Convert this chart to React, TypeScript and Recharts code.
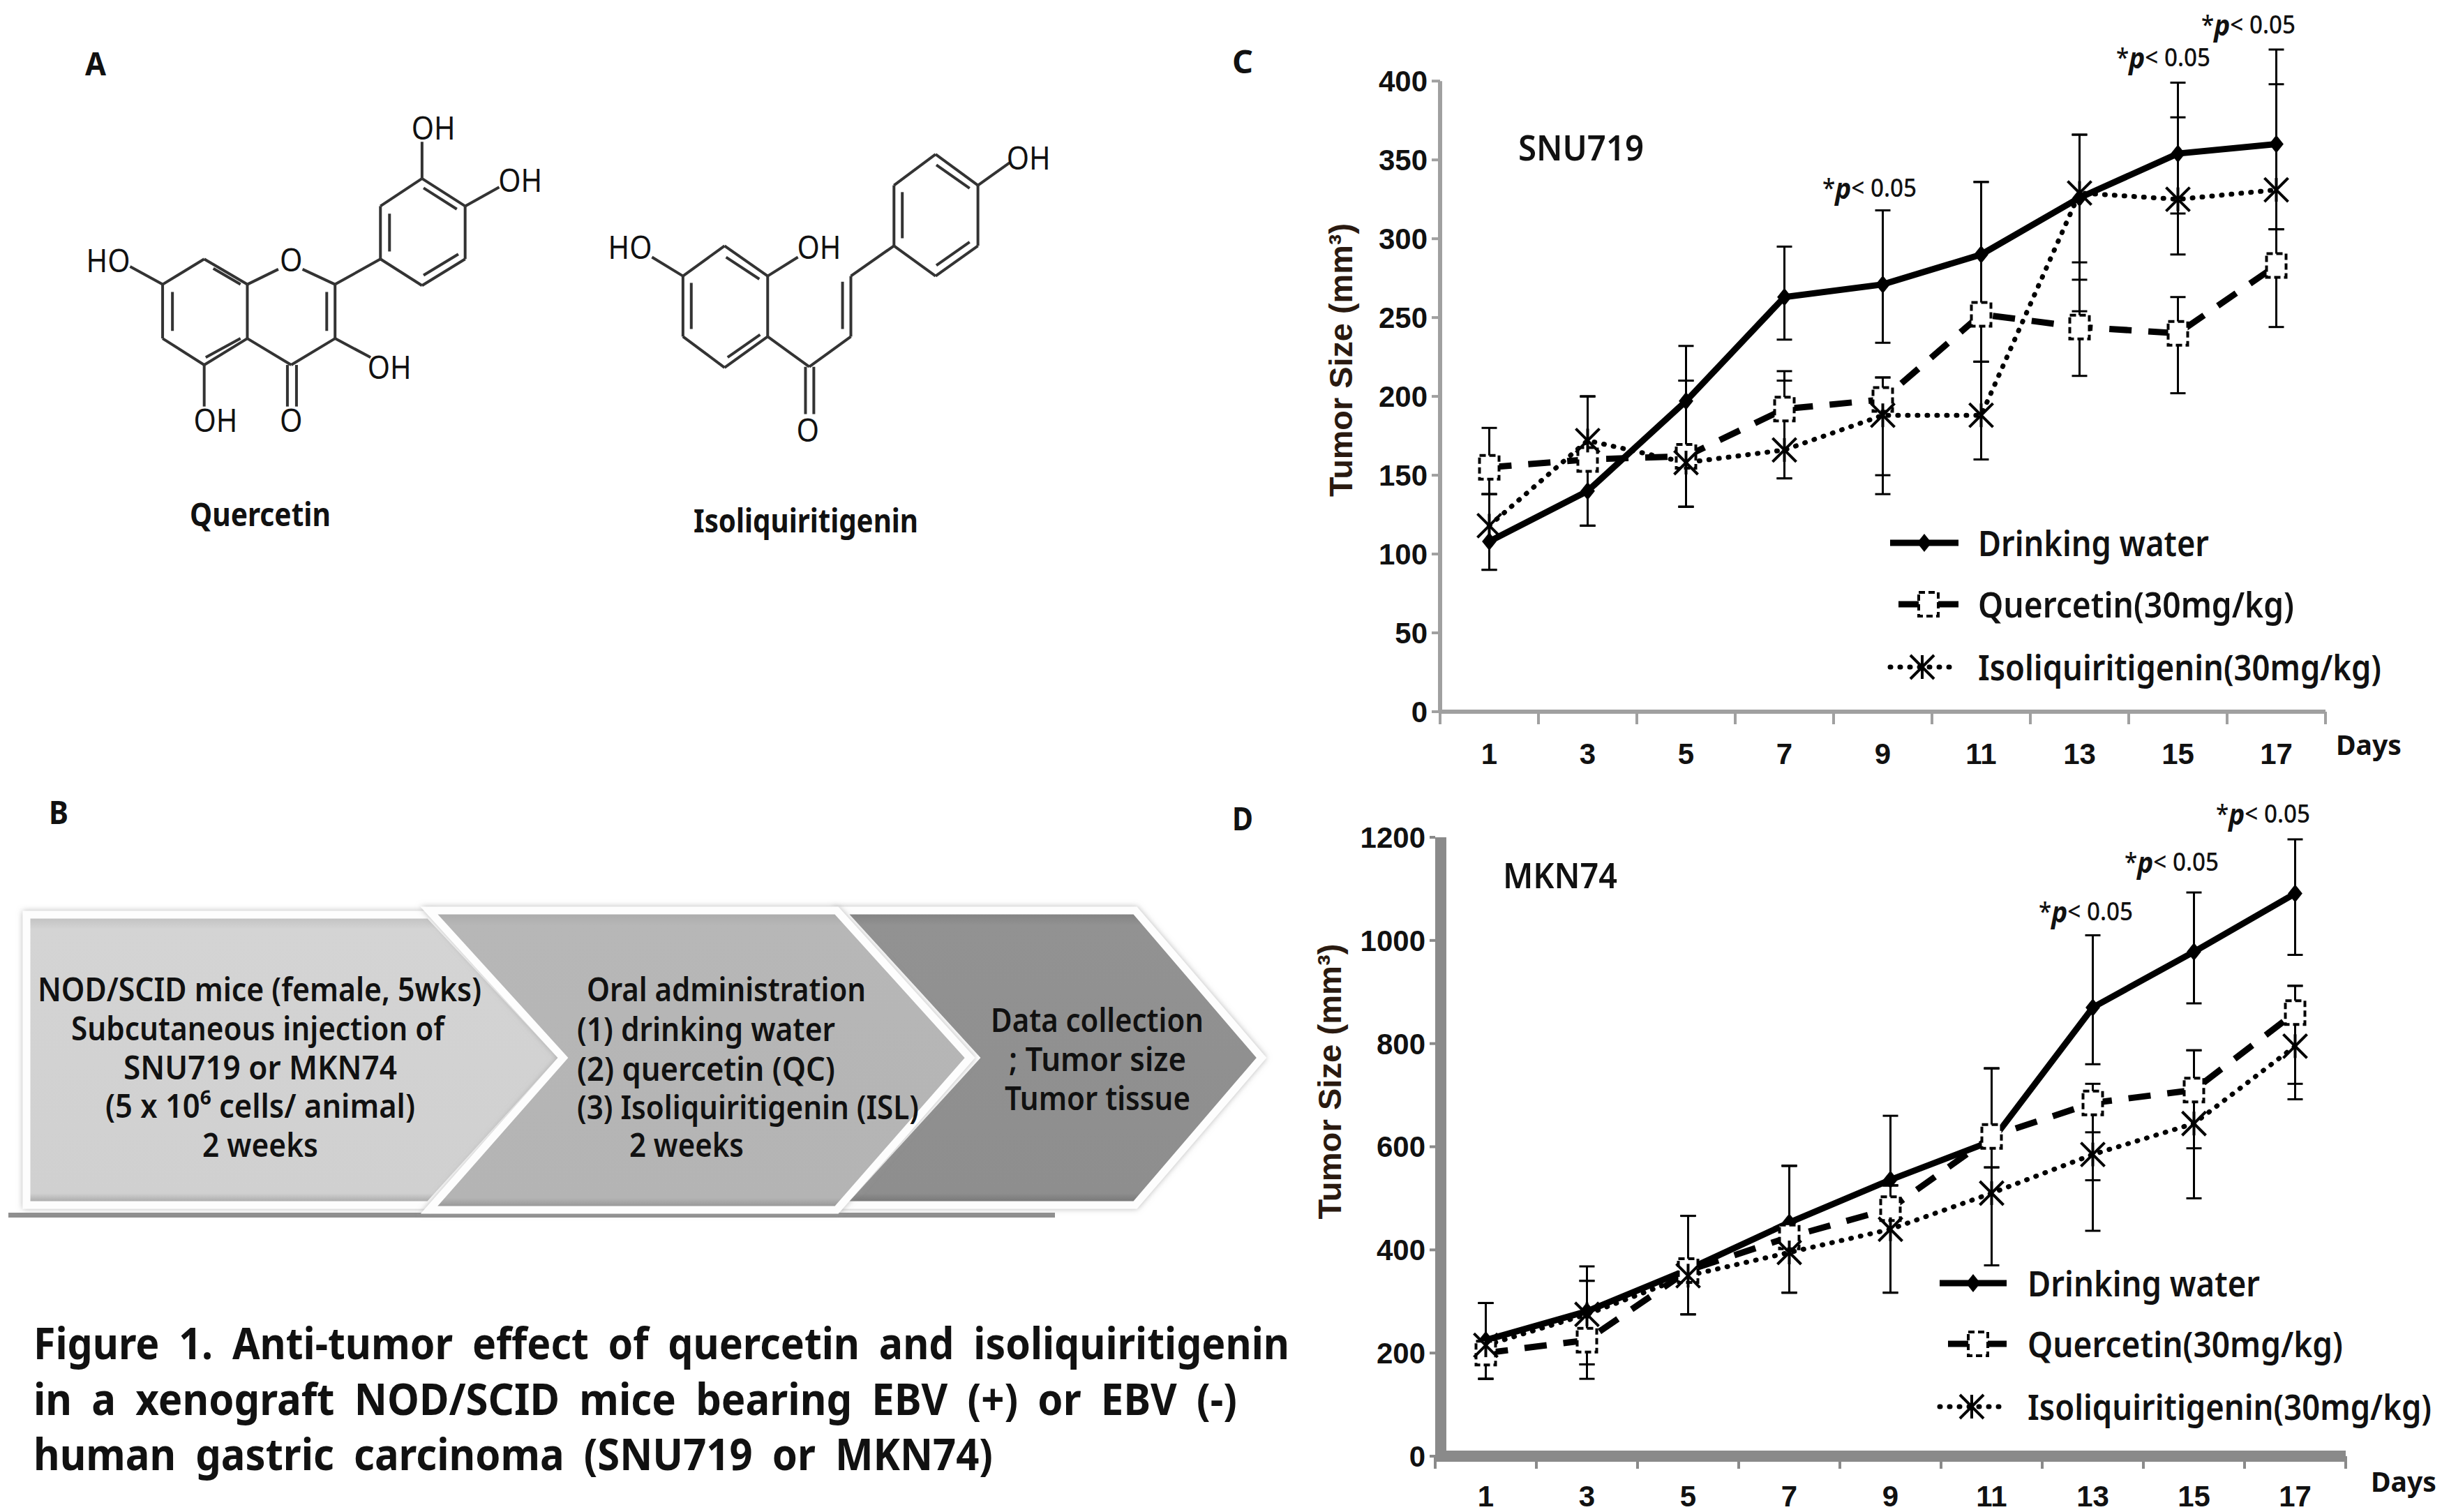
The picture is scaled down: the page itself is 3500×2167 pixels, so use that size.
import React from 'react';
import {
  LineChart, Line, XAxis, YAxis, ErrorBar, Legend, ReferenceLine
} from 'recharts';

const days = [1, 3, 5, 7, 9, 11, 13, 15, 17];
const seriesNames = ['Drinking water', 'Quercetin(30mg/kg)', 'Isoliquiritigenin(30mg/kg)'];

// panel C, SNU719
const snuWater = [108, 140, 197, 263, 271, 290, 326, 354, 360];
const snuWaterHi = [138, 200, 232, 295, 318, 336, 366, 399, 420];
const snuWaterLo = [90, 118, 130, 236, 234, 222, 285, 316, 306];
const snuQuercetin = [155, 160, 162, 192, 198, 252, 244, 240, 283];
const snuQuercetinHi = [180, 200, 210, 216, 212, 336, 274, 263, 306];
const snuQuercetinLo = [138, 118, 130, 148, 150, 222, 213, 202, 244];
const snuIsl = [118, 172, 158, 166, 188, 188, 329, 325, 331];
const snuIslHi = [138, 200, 210, 210, 212, 222, 366, 377, 398];
const snuIslLo = [90, 118, 130, 148, 138, 160, 254, 290, 306];
const snuTicks = [0, 50, 100, 150, 200, 250, 300, 350, 400];

// panel D, MKN74
const mknWater = [225, 281, 362, 453, 536, 611, 870, 978, 1091];
const mknWaterHi = [297, 368, 466, 563, 660, 752, 1010, 1093, 1196];
const mknWaterLo = [150, 178, 275, 317, 525, 560, 760, 878, 972];
const mknQuercetin = [200, 225, 360, 425, 480, 620, 685, 710, 860];
const mknQuercetinHi = [297, 340, 466, 563, 525, 752, 722, 787, 912];
const mknQuercetinLo = [150, 150, 275, 317, 317, 560, 437, 597, 722];
const mknIsl = [215, 275, 350, 395, 440, 510, 585, 645, 795];
const mknIslHi = [297, 340, 466, 563, 525, 752, 628, 787, 912];
const mknIslLo = [150, 178, 275, 317, 317, 370, 535, 500, 692];
const mknTicks = [0, 200, 400, 600, 800, 1000, 1200];

const xTicks = [0, 1, 2, 3, 4, 5, 6, 7, 8, 9, 10, 11, 12, 13, 14, 15, 16, 17, 18];

const buildRows = (sets: number[][][]) =>
  days.map((day, i) => {
    const row: any = { day };
    sets.forEach(([vals, hi, lo], s) => {
      row[`s${s}`] = vals[i];
      row[`e${s}`] = [vals[i] - lo[i], hi[i] - vals[i]];
    });
    return row;
  });

const snuRows = buildRows([
  [snuWater, snuWaterHi, snuWaterLo],
  [snuQuercetin, snuQuercetinHi, snuQuercetinLo],
  [snuIsl, snuIslHi, snuIslLo],
]);
const mknRows = buildRows([
  [mknWater, mknWaterHi, mknWaterLo],
  [mknQuercetin, mknQuercetinHi, mknQuercetinLo],
  [mknIsl, mknIslHi, mknIslLo],
]);

const SANS = '"Noto Sans", sans-serif';
const ARIAL = '"Liberation Sans", Arial, sans-serif';

// text squeezed to the width it has in the picture
const T = ({ x, y, w, size = 46, weight = 600, gap = 0, children }: any) => (
  <text x={x} y={y} fontFamily={SANS} fontSize={size} fontWeight={weight} fill="#111" wordSpacing={gap}
    dominantBaseline="central" textLength={w} lengthAdjust="spacingAndGlyphs">{children}</text>
);

const Diamond = ({ cx, cy, r = 13 }: any) => (
  <path d={`M${cx} ${cy - r}L${cx + r * 0.8} ${cy}L${cx} ${cy + r}L${cx - r * 0.8} ${cy}Z`} fill="#000" />
);
const DashSquare = ({ cx, cy }: any) => (
  <rect x={cx - 14} y={cy - 17} width={28} height={34} fill="#fff" stroke="#000" strokeWidth={4} strokeDasharray="9 5" />
);
const Star = ({ cx, cy, r = 17 }: any) => (
  <g stroke="#000" strokeWidth={4}>
    <line x1={cx - r} y1={cy - r} x2={cx + r} y2={cy + r} />
    <line x1={cx + r} y1={cy - r} x2={cx - r} y2={cy + r} />
    <line x1={cx} y1={cy - r} x2={cx} y2={cy + r} />
  </g>
);

const markers = [Diamond, DashSquare, Star];
const lineProps: any[] = [
  { strokeWidth: 9 },
  { strokeWidth: 9, strokeDasharray: '32 24' },
  { strokeWidth: 7, strokeDasharray: '1 13', strokeLinecap: 'round' },
];

const markerDot = (Marker: any) => (p: any) =>
  p.cx == null ? <g key={p.index} /> : <Marker key={p.index} cx={p.cx} cy={p.cy} />;

const LegendRows = ({ payload, rows }: any) => (
  <svg width={800} height={340} style={{ display: 'block', overflow: 'visible' }}>
    {(payload || []).map((entry: any, i: number) => {
      const r = rows[i];
      const Marker = markers[i];
      return (
        <g key={entry.value}>
          <line x1={r.x1} x2={r.x2} y1={r.y} y2={r.y} stroke="#000" {...lineProps[i]} />
          <Marker cx={r.mx} cy={r.y} />
          <T x={126} y={r.y} w={r.w} size={50} weight={600}>{entry.value}</T>
        </g>
      );
    })}
  </svg>
);

const TumorChart = ({ left, top, width, height, margin, yw, rows, yMax, yTop, yTicks, axisColor, axisWidth, yLineAt, xTickLen, labelY, legend, legendRows, yTickSize }: any) => {
  const xTick = (p: any) => {
    const v = p.payload.value;
    if (v % 2 === 0) {
      return <line key={v} x1={p.x} x2={p.x} y1={p.y} y2={p.y + xTickLen} stroke={axisColor} strokeWidth={4} />;
    }
    return (
      <text key={v} x={p.x} y={p.y + labelY} textAnchor="middle" fontFamily={ARIAL} fontWeight={700} fontSize={42} fill="#111">{v}</text>
    );
  };
  return (
    <div style={{ position: 'absolute', left, top }}>
      <LineChart width={width} height={height} data={rows} margin={margin}>
        <XAxis dataKey="day" type="number" domain={[0, 18]} ticks={xTicks} interval={0}
          height={1} tickSize={0} tickMargin={0} tickLine={false} tick={xTick}
          axisLine={{ stroke: axisColor, strokeWidth: axisWidth }} />
        <YAxis domain={[0, yMax]} ticks={yTicks} interval={0} width={yw} tickSize={yTickSize} tickMargin={6}
          axisLine={false}
          tickLine={{ stroke: axisColor, strokeWidth: 4 }}
          tick={{ fontFamily: ARIAL, fontWeight: 700, fontSize: 42, fill: '#111' }} />
        <ReferenceLine segment={[{ x: yLineAt, y: 0 }, { x: yLineAt, y: yTop }]} stroke={axisColor} strokeWidth={axisWidth} />
        <Legend layout="vertical" align="center" verticalAlign="middle" itemSorter={null}
          wrapperStyle={{ position: 'absolute', left: legend.left, top: legend.top, width: 800, height: 340 }}
          content={(props: any) => <LegendRows payload={props.payload} rows={legendRows} />} />
        {seriesNames.map((name, i) => (
          <Line key={name} dataKey={`s${i}`} name={name} type="linear" stroke="#000" isAnimationActive={false}
            dot={markerDot(markers[i])} activeDot={false} {...lineProps[i]}>
            <ErrorBar dataKey={`e${i}`} direction="y" width={11} stroke="#000" strokeWidth={3} strokeDasharray="0" isAnimationActive={false} />
          </Line>
        ))}
      </LineChart>
    </div>
  );
};

// bond segments of the two molecules, in the coordinates of the drawing
const scaleBond = ([a, b, c, d]: number[]) => [a * 1.084, b * 0.542, c * 1.084, d * 0.542];
const bonds = [
  [215, 752, 270, 685], [270, 685, 327, 752], [282, 710, 318, 752], [327, 752, 327, 895], [327, 895, 270, 965],
  [318, 895, 272, 945], [270, 965, 215, 895], [215, 895, 215, 752], [228, 875, 228, 772], [327, 752, 368, 712],
  [400, 712, 443, 752], [443, 752, 443, 895], [432, 772, 432, 875], [443, 895, 385, 965], [385, 965, 327, 895],
  [380, 965, 380, 1075], [392, 965, 392, 1075], [443, 895, 490, 945], [270, 965, 270, 1075], [215, 752, 172, 705],
  [443, 752, 503, 685], [503, 685, 503, 545], [515, 665, 515, 565], [503, 545, 558, 472], [558, 472, 615, 545],
  [560, 497, 604, 553], [615, 545, 615, 685], [615, 685, 558, 755], [606, 672, 560, 728], [558, 755, 503, 685],
  [558, 472, 558, 375], [615, 545, 660, 495],
  [958, 650, 1015, 730], [960, 680, 1004, 738], [1015, 730, 1015, 890], [1015, 890, 958, 972], [1005, 885, 962, 945],
  [958, 972, 903, 890], [903, 890, 903, 730], [914, 870, 914, 748], [903, 730, 958, 650], [1015, 730, 1055, 680],
  [903, 730, 862, 680], [1015, 890, 1070, 970], [1065, 970, 1065, 1095], [1076, 970, 1076, 1095], [1070, 970, 1125, 890],
  [1125, 890, 1125, 730], [1114, 870, 1114, 745], [1125, 730, 1182, 650], [1182, 650, 1182, 490], [1193, 630, 1193, 508],
  [1182, 490, 1237, 408], [1237, 408, 1293, 490], [1238, 436, 1282, 498], [1293, 490, 1293, 650], [1293, 650, 1237, 730],
  [1282, 640, 1238, 702], [1237, 730, 1182, 650], [1293, 490, 1335, 430],
].map(scaleBond);

const atomLabels: [string, number, number, number][] = [
  ['HO', 143, 687, 58], ['O', 385, 685, 30], ['OH', 573, 335, 58], ['OH', 688, 475, 58], ['OH', 515, 968, 58],
  ['OH', 285, 1108, 58], ['O', 385, 1108, 30], ['HO', 833, 652, 58], ['OH', 1083, 652, 58], ['O', 1068, 1135, 30], ['OH', 1360, 415, 58],
];

const Chevron = ({ points, fill }: any) => (
  <polygon points={points} fill={fill} stroke="#fdfdfd" strokeWidth={11} strokeLinejoin="miter" filter="url(#halo)" />
);

const Backdrop = () => (
  <svg width={3500} height={2167} style={{ position: 'absolute', left: 0, top: 0 }}>
    <defs>
      <filter id="halo" x="-5%" y="-5%" width="110%" height="110%">
        <feDropShadow dx="0" dy="0" stdDeviation="4" floodColor="#999" floodOpacity="0.7" />
      </filter>
      <linearGradient id="chev1" x1="0" y1="0" x2="0" y2="1">
        <stop offset="0%" stopColor="#bdbdbd" /><stop offset="5%" stopColor="#d4d4d4" />
        <stop offset="96%" stopColor="#d0d0d0" /><stop offset="100%" stopColor="#9c9c9c" />
      </linearGradient>
      <linearGradient id="chev2" x1="0" y1="0" x2="0" y2="1">
        <stop offset="0%" stopColor="#a8a8a8" /><stop offset="5%" stopColor="#b7b7b7" />
        <stop offset="96%" stopColor="#b4b4b4" /><stop offset="100%" stopColor="#8c8c8c" />
      </linearGradient>
      <linearGradient id="chev3" x1="0" y1="0" x2="0" y2="1">
        <stop offset="0%" stopColor="#7e7e7e" /><stop offset="5%" stopColor="#929292" />
        <stop offset="96%" stopColor="#8e8e8e" /><stop offset="100%" stopColor="#707070" />
      </linearGradient>
    </defs>

    {/* panel letters */}
    <T x={122} y={90} w={30} size={46} weight={700}>A</T>
    <T x={70} y={1163} w={28} size={46} weight={700}>B</T>
    <T x={1766} y={87} w={30} size={46} weight={700}>C</T>
    <T x={1766} y={1172} w={30} size={46} weight={700}>D</T>

    {/* panel A */}
    {bonds.map((b, i) => (
      <line key={i} x1={b[0]} y1={b[1]} x2={b[2]} y2={b[3]} stroke="#333" strokeWidth={4} />
    ))}
    {atomLabels.map(([s, x, y, w], i) => (
      <T key={i} x={x * 1.084 - (w * 1.084) / 2} y={y * 0.542} w={w * 1.084} size={46} weight={400}>{s}</T>
    ))}
    <T x={272} y={736} w={202} size={46} weight={700}>Quercetin</T>
    <T x={994} y={745} w={322} size={46} weight={700}>Isoliquiritigenin</T>

    {/* panel B */}
    <rect x={12} y={1738} width={1500} height={7} fill="#8f8f8f" />
    <Chevron points="1205,1305 1627,1305 1808,1516 1627,1727 1205,1727 1398,1516" fill="url(#chev3)" />
    <Chevron points="38,1311 615,1311 807,1516 615,1727 38,1727" fill="url(#chev1)" />
    <Chevron points="615,1305 1199,1305 1390,1516 1199,1734 615,1734 807,1516" fill="url(#chev2)" />
    <T x={54} y={1417} w={636}>NOD/SCID mice (female, 5wks)</T>
    <T x={102} y={1473} w={535}>Subcutaneous injection of</T>
    <T x={177} y={1529} w={392}>SNU719 or MKN74</T>
    <T x={151} y={1584} w={444}>(5 x 10⁶ cells/ animal)</T>
    <T x={290} y={1640} w={166}>2 weeks</T>
    <T x={841} y={1417} w={400}>Oral administration</T>
    <T x={827} y={1474} w={370}>(1) drinking water</T>
    <T x={827} y={1531} w={370}>(2) quercetin (QC)</T>
    <T x={827} y={1586} w={490}>(3) Isoliquiritigenin (ISL)</T>
    <T x={902} y={1640} w={164}>2 weeks</T>
    <T x={1420} y={1461} w={305}>Data collection</T>
    <T x={1446} y={1517} w={254}>; Tumor size</T>
    <T x={1440} y={1573} w={266}>Tumor tissue</T>

    {/* caption */}
    <T x={48} y={1924} w={1800} size={62} weight={700} gap={14}>Figure 1. Anti-tumor effect of quercetin and isoliquiritigenin</T>
    <T x={48} y={2004} w={1725} size={62} weight={700} gap={14}>in a xenograft NOD/SCID mice bearing EBV (+) or EBV (-)</T>
    <T x={48} y={2083} w={1375} size={62} weight={700} gap={14}>human gastric carcinoma (SNU719 or MKN74)</T>

    {/* panel C and D notes */}
    <T x={2176} y={211} w={180} size={50} weight={600}>SNU719</T>
    <T x={2154} y={1254} w={164} size={50} weight={600}>MKN74</T>
    <T x={3348} y={1066} w={94} size={40} weight={700}>Days</T>
    <T x={3398} y={2122} w={94} size={40} weight={700}>Days</T>
    {[[2612, 268], [3033, 81], [3155, 34], [2922, 1305], [3045, 1234], [3176, 1165]].map(([x, y]) => (
      <text key={`${x}`} x={x} y={y} fontFamily={SANS} fontSize={36} fontWeight={500} fill="#111"
        dominantBaseline="central" textLength={135} lengthAdjust="spacingAndGlyphs">
        *<tspan fontStyle="italic" fontWeight={700} fontSize={42}>p</tspan>{'< 0.05'}
      </text>
    ))}
    <text transform="translate(1922,516) rotate(-90)" textAnchor="middle" dominantBaseline="central"
      textLength={392} lengthAdjust="spacingAndGlyphs"
      fontFamily={ARIAL} fontWeight={700} fontSize={46} fill="#2a1a10">Tumor Size (mm³)</text>
    <text transform="translate(1906,1550) rotate(-90)" textAnchor="middle" dominantBaseline="central"
      textLength={395} lengthAdjust="spacingAndGlyphs"
      fontFamily={ARIAL} fontWeight={700} fontSize={46} fill="#2a1a10">Tumor Size (mm³)</text>
  </svg>
);

export default function App() {
  return (
    <div style={{ position: 'absolute', left: 0, top: 0, width: 3500, height: 2167, background: '#fff', overflow: 'hidden' }}>
      <Backdrop />
      <TumorChart
        left={1850} top={0} width={1650} height={1120}
        margin={{ top: 71, right: 167, bottom: 99, left: 0 }} yw={214}
        rows={snuRows} yMax={420} yTop={400} yTicks={snuTicks} yLineAt={0}
        axisColor="#a0a0a0" axisWidth={6} xTickLen={18} labelY={75} yTickSize={12}
        legend={{ left: 859, top: 680 }}
        legendRows={[
          { x1: 0, x2: 98, mx: 49, y: 98, w: 331 },
          { x1: 12, x2: 98, mx: 55, y: 186, w: 453 },
          { x1: 0, x2: 87, mx: 46, y: 276, w: 578 },
        ]}
      />
      <TumorChart
        left={1850} top={1120} width={1650} height={1047}
        margin={{ top: 80, right: 138, bottom: 79, left: 0 }} yw={207}
        rows={mknRows} yMax={1200} yTop={1200} yTicks={mknTicks} yLineAt={0.11}
        axisColor="#8a8a8a" axisWidth={16} xTickLen={18} labelY={72} yTickSize={8}
        legend={{ left: 930, top: 659 }}
        legendRows={[
          { x1: 0, x2: 96, mx: 48, y: 60, w: 333 },
          { x1: 12, x2: 96, mx: 55, y: 147, w: 452 },
          { x1: 0, x2: 85, mx: 46, y: 237, w: 579 },
        ]}
      />
    </div>
  );
}
